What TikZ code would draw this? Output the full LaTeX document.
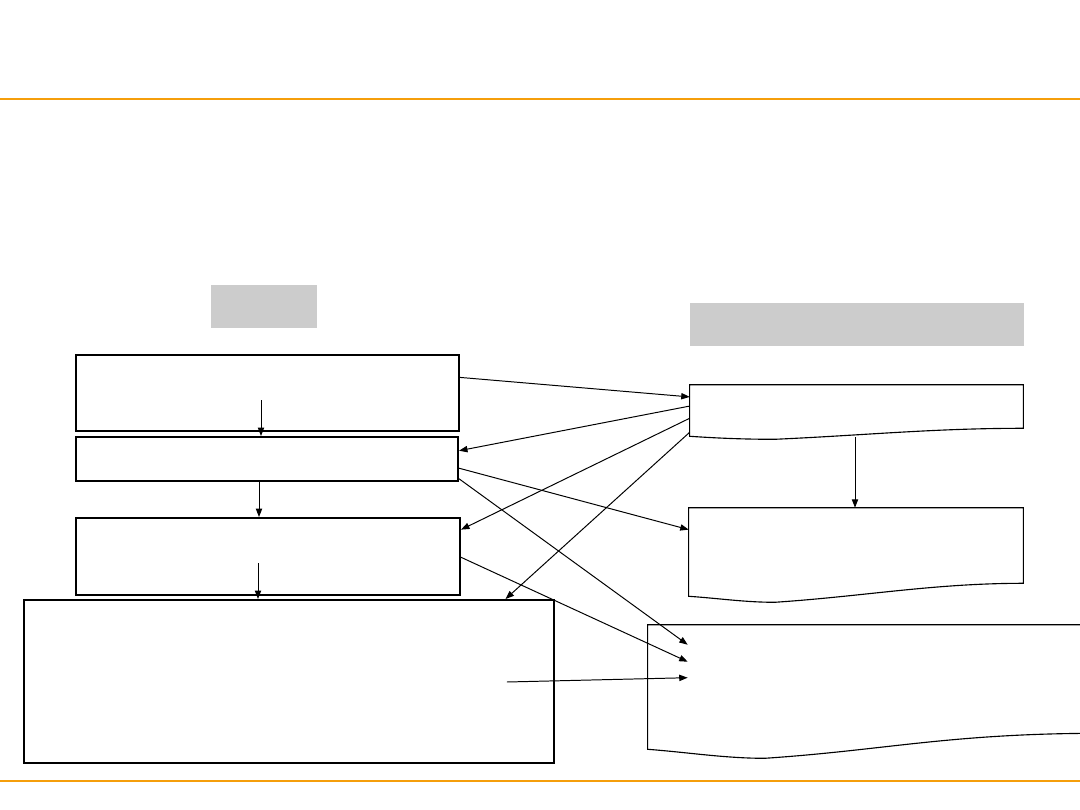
\documentclass[tikz,border=0pt]{standalone}
\usetikzlibrary{arrows.meta,calc}
\definecolor{rule}{RGB}{245,158,11}
\definecolor{shade}{RGB}{204,204,204}

\begin{document}
\begin{tikzpicture}[x=0.025cm,y=-0.025cm,
  box/.style={draw,line width=1.4pt,inner sep=0pt},
  tag/.style={fill=shade,inner sep=0pt},
  slot/.style={inner sep=0pt},
  doc/.style={line width=0.8pt},
  link/.style={line width=0.7pt,-{Triangle[length=6pt,width=4.5pt]}}]
  \useasboundingbox (0,0) rectangle (1080,810);
  \clip (0,0) rectangle (1080,810);
  % orange rules
  \draw[rule,line width=1.6pt] (0,99) -- (1080,99);
  \draw[rule,line width=1.6pt] (0,781) -- (1080,781);
  % grey headers
  \node[tag,minimum width=2.65cm,minimum height=1.075cm] (hl) at (264,306.5) {};
  \node[tag,minimum width=8.35cm,minimum height=1.075cm] (hr) at (857,324.5) {};
  % left column
  \node[box,minimum width=9.575cm,minimum height=1.9cm] (A) at (267.5,393) {};
  \node[box,minimum width=9.55cm,minimum height=1.1cm] (B) at (267,459) {};
  \node[box,minimum width=9.6cm,minimum height=1.925cm] (C) at (268,556.5) {};
  \node[box,minimum width=13.25cm,minimum height=4.075cm] (D) at (289,681.5) {};
  % right column, frames of the wavy boxes
  \node[slot,minimum width=8.325cm,minimum height=1.075cm] (R1) at (856.5,406.5) {};
  \node[slot,minimum width=8.35cm,minimum height=1.875cm] (R2) at (856,545.5) {};
  \node[slot,minimum width=11.3cm,minimum height=2.7cm] (R3) at (874,679) {};
  \draw[doc] ($(R1.south west)+(0,8)$) -- (R1.north west) -- (R1.north east) -- (R1.south east)
    .. controls +(-90,0) and +(90,-4) .. ($(R1.south west)+(85,11)$)
    .. controls +(-30,0) and +(30,2) .. ($(R1.south west)+(0,8)$) -- cycle;
  \draw[doc] ($(R2.south west)+(0,13)$) -- (R2.north west) -- (R2.north east) -- (R2.south east)
    .. controls +(-90,0) and +(90,-6) .. ($(R2.south west)+(86,19)$)
    .. controls +(-30,0) and +(30,2) .. ($(R2.south west)+(0,13)$) -- cycle;
  \draw[doc] ($(R3.south west)+(0,16)$) -- (R3.north west) -- (R3.north east) -- (R3.south east)
    .. controls +(-150,0) and +(120,-8) .. ($(R3.south west)+(117,25)$)
    .. controls +(-40,0) and +(40,3) .. ($(R3.south west)+(0,16)$) -- cycle;
  % connectors
  \draw[link] ($(A.north east)!0.3!(A.south east)$) -- ($(R1.north west)!0.28!(R1.south west)$);
  \draw[link] ($(R1.north west)!0.49!(R1.south west)$) -- ($(B.north east)!0.32!(B.south east)$);
  \draw[link] ($(R1.north west)!0.77!(R1.south west)$) -- ($(C.north east)!0.16!(C.south east)$);
  \draw[link] ($(R1.south west)+(0,4)$) -- ($(D.north west)!0.907!(D.north east)$);
  \draw[link] ($(B.north east)!0.7!(B.south east)$) -- ($(R2.north west)!0.29!(R2.south west)$);
  \draw[link] ($(B.north east)!0.93!(B.south east)$) -- ($(R3.north west)+(40,20)$);
  \draw[link] ($(C.north east)!0.51!(C.south east)$) -- ($(R3.north west)+(40,37)$);
  \draw[link] ($(D.north west)+(484,83)$) -- ($(R3.north west)+(40,53)$);
  \draw[link] ($(A.south)+(-6.5,-32)$) -- ($(B.north)+(-6,0)$);
  \draw[link] ($(B.south)+(-8,0)$) -- ($(C.north)+(-9,0)$);
  \draw[link] ($(C.center)+(-10,6.5)$) -- ($(D.north)+(-31,0)$);
  \draw[link] ($(R1.south)+(-1.5,9)$) -- ($(R2.north)+(-1,0)$);
\end{tikzpicture}
\end{document}
